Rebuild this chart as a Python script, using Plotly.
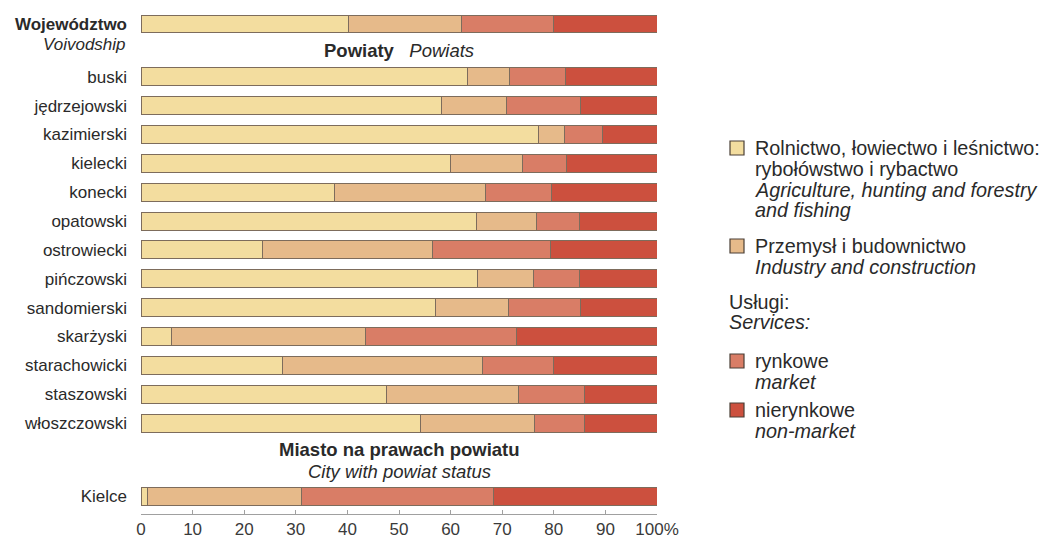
import plotly.graph_objects as go

# ---- data ----
categories = ["Województwo", "buski", "jędrzejowski", "kazimierski", "kielecki", "konecki",
              "opatowski", "ostrowiecki", "pińczowski", "sandomierski", "skarżyski",
              "starachowicki", "staszowski", "włoszczowski", "Kielce"]
agriculture = [40.2, 63.3, 58.3, 77.1, 59.9, 37.5, 65.0, 23.5, 65.2, 57.0, 5.9, 27.4, 47.5, 54.1, 1.2]
industry    = [22.0, 8.2, 12.5, 4.9, 14.0, 29.3, 11.7, 33.0, 10.8, 14.3, 37.6, 38.7, 25.6, 22.2, 30.0]
market      = [17.8, 10.7, 14.3, 7.4, 8.6, 12.7, 8.2, 22.8, 8.9, 13.8, 29.3, 13.8, 12.8, 9.7, 37.2]
nonmarket   = [20.0, 17.8, 14.9, 10.6, 17.5, 20.5, 15.1, 20.7, 15.1, 14.9, 27.2, 20.1, 14.1, 14.0, 31.6]
x_ticks = [0, 10, 20, 30, 40, 50, 60, 70, 80, 90, 100]
x_ticktext = ["0", "10", "20", "30", "40", "50", "60", "70", "80", "90", "100%"]

series_names = ["Rolnictwo, łowiectwo i leśnictwo: rybołówstwo i rybactwo",
                "Przemysł i budownictwo", "rynkowe", "nierynkowe"]
series_values = [agriculture, industry, market, nonmarket]
colors = ["#F3DD9F", "#E6BA8A", "#D97D66", "#CC503E"]

# row positions (layout): voivodship, 13 powiats, city
positions = [-1.83] + list(range(13)) + [14.53]

FONT = "Liberation Sans, Arial, sans-serif"
TXT = "#2a2a2a"

fig = go.Figure()
for name, vals, col in zip(series_names, series_values, colors):
    fig.add_trace(go.Bar(
        x=vals, y=positions, orientation="h", name=name,
        marker=dict(color=col, line=dict(color="#7d6c5c", width=1)),
        width=0.62, showlegend=False, hoverinfo="x+name"))

ticktext = ["<b>Województwo</b>"] + categories[1:]

fig.update_layout(
    barmode="stack",
    width=1044, height=539,
    margin=dict(l=141, r=387, t=10, b=25),
    paper_bgcolor="white", plot_bgcolor="white",
    font=dict(family=FONT, size=16, color=TXT),
    xaxis=dict(range=[0, 100], tickvals=x_ticks, ticktext=x_ticktext, automargin=False,
               showgrid=False, zeroline=False, showline=True, linecolor="#a0a0a0",
               linewidth=1, ticks="inside", ticklen=4, tickcolor="#a0a0a0",
               tickfont=dict(size=17, color="#3a3a3a"), fixedrange=True),
    yaxis=dict(range=[15.15, -2.314], tickvals=positions, ticktext=ticktext, automargin=False,
               showgrid=False, zeroline=False, showline=False, ticks="",
               ticklabelstandoff=13, tickfont=dict(size=17, color=TXT), fixedrange=True),
)

ann = []
# under voivodship
ann.append(dict(x=0, xref="paper", xanchor="right", xshift=-13, y=positions[0], yref="y",
                yshift=-21, text="<i>Voivodship</i>", showarrow=False,
                font=dict(size=17, color=TXT)))
# section headings
ann.append(dict(x=0.5, xref="paper", y=-0.92, yref="y",
                text="<b>Powiaty</b>   <i>Powiats</i>", showarrow=False,
                font=dict(size=18.5, color=TXT)))
ann.append(dict(x=0.5, xref="paper", y=12.93, yref="y",
                text="<b>Miasto na prawach powiatu</b>", showarrow=False,
                font=dict(size=18.5, color=TXT)))
ann.append(dict(x=0.5, xref="paper", y=13.66, yref="y",
                text="<i>City with powiat status</i>", showarrow=False,
                font=dict(size=18.5, color=TXT)))

# legend (manual, in pixel-derived paper coordinates)
pl, pt, pw, ph = 141, 10, 1044 - 141 - 387, 539 - 10 - 25


def px(x):
    return (x - pl) / pw


def py(y):
    return 1 - (y - pt) / ph


shapes = []
legend_items = [
    (colors[0], 148, ["Rolnictwo, łowiectwo i leśnictwo:", "rybołówstwo i rybactwo",
                      "<i>Agriculture, hunting and forestry</i>", "<i>and fishing</i>"]),
    (colors[1], 246, ["Przemysł i budownictwo", "<i>Industry and construction</i>"]),
    (colors[2], 361, ["rynkowe", "<i>market</i>"]),
    (colors[3], 410, ["nierynkowe", "<i>non-market</i>"]),
]
for col, yc, lines in legend_items:
    shapes.append(dict(type="rect", xref="paper", yref="paper",
                       x0=px(730), x1=px(744), y0=py(yc + 7), y1=py(yc - 7),
                       fillcolor=col, line=dict(color="#4a3f36", width=1.2)))
    for i, t in enumerate(lines):
        ann.append(dict(x=px(753), xref="paper", xanchor="left", y=py(yc + i * 20.8), yref="paper",
                        yanchor="middle", text=t, showarrow=False, font=dict(size=19.8, color=TXT)))

ann.append(dict(x=px(727), xref="paper", xanchor="left", y=py(302), yref="paper",
                yanchor="middle", text="Usługi:", showarrow=False, font=dict(size=19.8, color=TXT)))
ann.append(dict(x=px(727), xref="paper", xanchor="left", y=py(322), yref="paper",
                yanchor="middle", text="<i>Services:</i>", showarrow=False, font=dict(size=19.8, color=TXT)))

fig.update_layout(annotations=ann, shapes=shapes)
fig.write_html("out.html", config={"displayModeBar": False},
               post_script="document.body.style.margin='0';")
